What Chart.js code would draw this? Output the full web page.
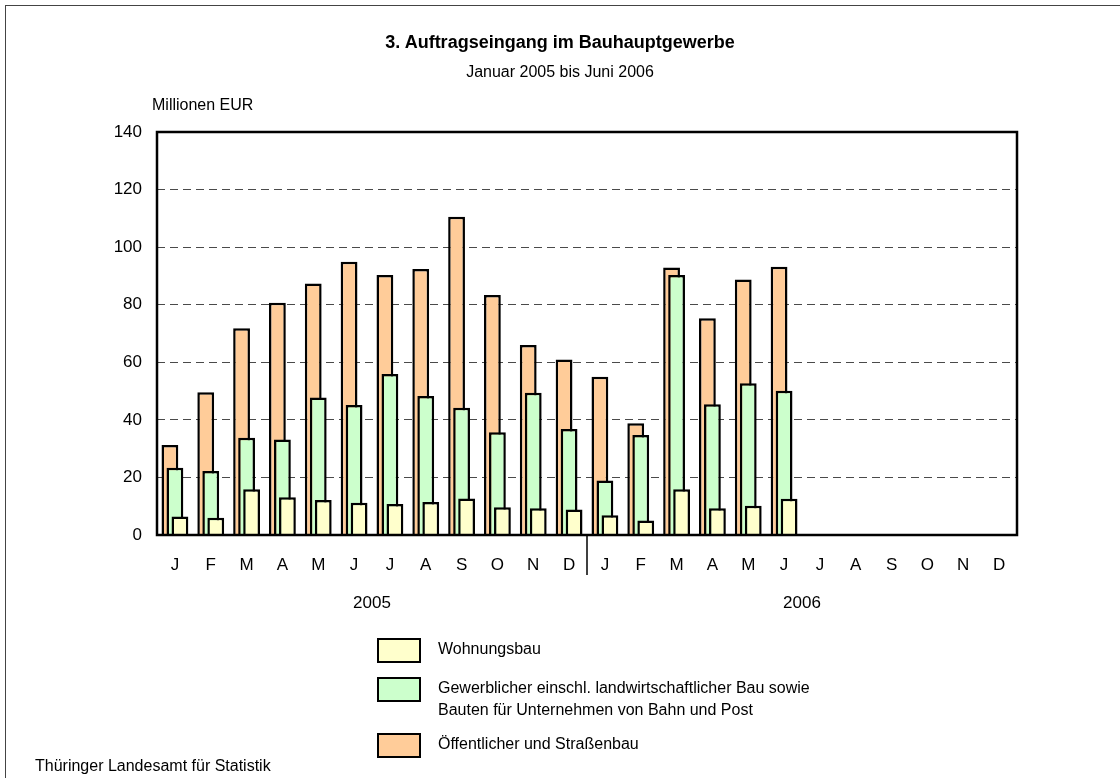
<!DOCTYPE html>
<html>
<head>
<meta charset="utf-8">
<script src="https://cdn.jsdelivr.net/npm/chart.js@4/dist/chart.umd.min.js"></script>
<style>
  body { margin: 0; overflow: hidden; background: #fff; font-family: "Liberation Sans", Arial, sans-serif; color: #000; }
  #page { position: relative; width: 1120px; height: 778px; overflow: hidden; }
  #frame { position: absolute; left: 5px; top: 5px; width: 1130px; height: 800px; border: 1px solid #444; }
  #wrap { position: absolute; left: 0; top: 0; width: 1120px; height: 778px; }
  .txt { position: absolute; white-space: nowrap; line-height: 22px; }
  #title { left: 0; width: 1120px; top: 31px; text-align: center; font-weight: bold; font-size: 18px; }
  #subtitle { left: 0; width: 1120px; top: 61px; text-align: center; font-size: 16px; }
  #unit { left: 152px; top: 94px; font-size: 16px; }
  #source { left: 35px; top: 755px; font-size: 16px; }
  #legend { position: absolute; left: 377px; top: 638px; font-size: 16px; }
  .item { display: flex; align-items: flex-start; }
  .item .box { width: 40px; height: 21px; border: 2px solid #000; flex: none; }
  .item .lab { margin-left: 17px; line-height: 22px; white-space: pre-line; }
  .item:nth-child(1) { margin-bottom: 14px; }
  .item:nth-child(2) { margin-bottom: 12px; }
</style>
</head>
<body>
<div id="page">
  <div id="frame"></div>
  <div id="wrap"><canvas id="chart"></canvas></div>
  <div class="txt" id="title">3. Auftragseingang im Bauhauptgewerbe</div>
  <div class="txt" id="subtitle">Januar 2005 bis Juni 2006</div>
  <div class="txt" id="unit">Millionen EUR</div>
  <div id="legend"></div>
  <div class="txt" id="source">Thüringer Landesamt für Statistik</div>
</div>
<script>
// month labels, two years
var months = ["J","F","M","A","M","J","J","A","S","O","N","D",
              "J","F","M","A","M","J","J","A","S","O","N","D"];
var years = ["2005", "2006"];

// Millionen EUR, Jan 2005 - Jun 2006 (rest of 2006 empty)
var wohnungsbau = [6.4, 6.0, 15.9, 13.1, 12.2, 11.2, 10.8, 11.5, 12.7, 9.6, 9.3, 8.9,
                   6.9, 5.0, 15.9, 9.3, 10.2, 12.6, null, null, null, null, null, null];
var gewerblich  = [23.4, 22.2, 33.8, 33.2, 47.8, 45.2, 55.9, 48.3, 44.2, 35.7, 49.4, 36.8,
                   18.9, 34.7, 90.3, 45.4, 52.7, 50.1, null, null, null, null, null, null];
var oeffentlich = [31.3, 49.6, 71.8, 80.7, 87.4, 94.9, 90.3, 92.4, 110.6, 83.4, 66.0, 61.0,
                   55.0, 38.8, 92.9, 75.3, 88.8, 93.2, null, null, null, null, null, null];

var yTicks = { min: 0, max: 140, step: 20 };

// draw the bars left-to-right so the right one (Wohnungsbau) lies on top
var drawOrderPlugin = {
  id: 'drawOrder',
  beforeDatasetsDraw: function(chart) {
    chart.getSortedVisibleDatasetMetas().forEach(function(meta) {
      meta.controller.draw();
    });
    return false;
  }
};

// plot frame + the year separator below the axis
var framePlugin = {
  id: 'frame',
  afterDraw: function(chart) {
    var ctx = chart.ctx, a = chart.chartArea, xs = chart.scales.x;
    ctx.save();
    ctx.strokeStyle = '#000';
    ctx.lineWidth = 2.5;
    ctx.strokeRect(a.left, a.top, a.right - a.left, a.bottom - a.top);
    var sx = (xs.getPixelForValue(11) + xs.getPixelForValue(12)) / 2;
    ctx.lineWidth = 1.5;
    ctx.beginPath();
    ctx.moveTo(sx, a.bottom);
    ctx.lineTo(sx, a.bottom + 40);
    ctx.stroke();
    ctx.restore();
  }
};

var ctx = document.getElementById('chart');
var chart = new Chart(ctx, {
  type: 'bar',
  data: {
    labels: months,
    datasets: [
      {
        label: "Wohnungsbau",
        data: wohnungsbau,
        backgroundColor: "#FFFFCC",
        order: 3
      },
      {
        label: "Gewerblicher einschl. landwirtschaftlicher Bau sowie\nBauten für Unternehmen von Bahn und Post",
        data: gewerblich,
        backgroundColor: "#CCFFCC",
        order: 2
      },
      {
        label: "Öffentlicher und Straßenbau",
        data: oeffentlich,
        backgroundColor: "#FFCC99",
        order: 1
      }
    ]
  },
  options: {
    responsive: true,
    maintainAspectRatio: false,
    animation: false,
    layout: { padding: { top: 132, left: 0, right: 103, bottom: 153 } },
    datasets: {
      bar: {
        borderColor: '#000',
        borderWidth: 2.5,
        categoryPercentage: 0.42,
        barPercentage: 3.35
      }
    },
    plugins: {
      legend: { display: false },
      tooltip: { enabled: false }
    },
    scales: {
      x: {
        grid: { display: false, drawTicks: false },
        border: { display: false },
        ticks: {
          color: '#000',
          font: { family: 'Liberation Sans', size: 17 },
          padding: 20,
          autoSkip: false,
          maxRotation: 0
        },
        afterFit: function(s) { s.height = 50; }
      },
      x2: {
        type: 'category',
        labels: years,
        position: 'bottom',
        offset: true,
        grid: { display: false, drawTicks: false },
        border: { display: false },
        ticks: {
          color: '#000',
          font: { family: 'Liberation Sans', size: 17 },
          padding: 8,
          maxRotation: 0
        },
        afterFit: function(s) { s.height = 40; }
      },
      y: {
        min: yTicks.min,
        max: yTicks.max,
        border: { display: false, dash: [8, 5] },
        grid: {
          drawTicks: false,
          lineWidth: 1,
          color: function(c) {
            return (c.tick && (c.tick.value === yTicks.min || c.tick.value === yTicks.max)) ? 'rgba(0,0,0,0)' : '#4a4a4a';
          }
        },
        ticks: {
          stepSize: yTicks.step,
          color: '#000',
          font: { family: 'Liberation Sans', size: 17 },
          padding: 15
        },
        afterFit: function(s) { s.width = 157; }
      }
    }
  },
  plugins: [drawOrderPlugin, framePlugin]
});

// html legend built from the datasets
var legend = document.getElementById('legend');
chart.data.datasets.forEach(function(ds) {
  var item = document.createElement('div');
  item.className = 'item';
  var box = document.createElement('div');
  box.className = 'box';
  box.style.background = ds.backgroundColor;
  var lab = document.createElement('div');
  lab.className = 'lab';
  lab.textContent = ds.label;
  item.appendChild(box);
  item.appendChild(lab);
  legend.appendChild(item);
});
</script>
</body>
</html>
